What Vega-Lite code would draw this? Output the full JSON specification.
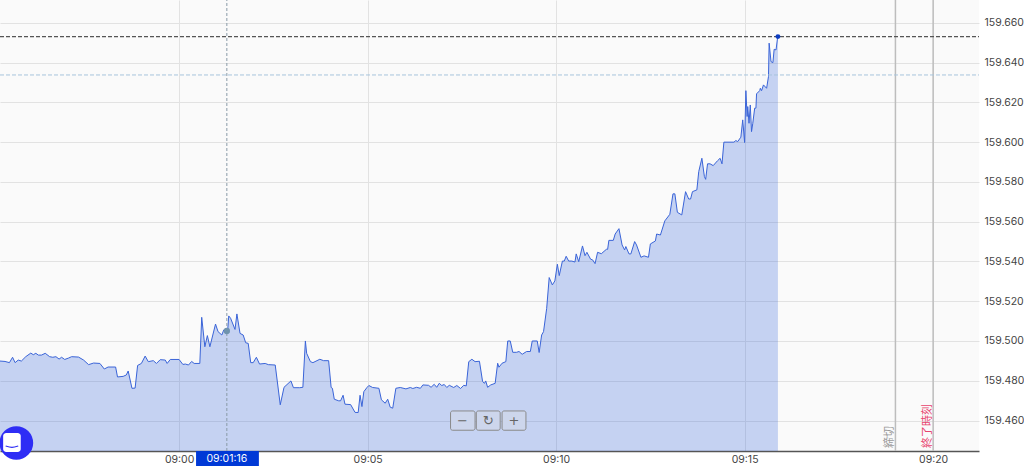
{"$schema":"https://vega.github.io/schema/vega-lite/v6.json","width":979,"height":451,"padding":{"left":0,"top":0,"right":45,"bottom":17},"autosize":{"type":"none"},"background":"#ffffff","view":{"fill":"#fafafa","stroke":null},
"datasets":{"series":[
{"time":"2024-01-01T08:55:15","price":159.4899},{"time":"2024-01-01T08:55:23","price":159.4897},{"time":"2024-01-01T08:55:30","price":159.4891},{"time":"2024-01-01T08:55:35","price":159.4918},{"time":"2024-01-01T08:55:39","price":159.4891},{"time":"2024-01-01T08:55:44","price":159.4904},{"time":"2024-01-01T08:55:49","price":159.4899},{"time":"2024-01-01T08:55:56","price":159.4921},{"time":"2024-01-01T08:56:04","price":159.4939},{"time":"2024-01-01T08:56:08","price":159.4931},{"time":"2024-01-01T08:56:12","price":159.4938},{"time":"2024-01-01T08:56:16","price":159.4929},{"time":"2024-01-01T08:56:21","price":159.4929},{"time":"2024-01-01T08:56:27","price":159.4938},{"time":"2024-01-01T08:56:34","price":159.4921},{"time":"2024-01-01T08:56:39","price":159.4918},{"time":"2024-01-01T08:56:44","price":159.4921},{"time":"2024-01-01T08:56:49","price":159.4909},{"time":"2024-01-01T08:56:53","price":159.4918},{"time":"2024-01-01T08:56:58","price":159.4907},{"time":"2024-01-01T08:57:04","price":159.4914},{"time":"2024-01-01T08:57:09","price":159.4921},{"time":"2024-01-01T08:57:20","price":159.4919},{"time":"2024-01-01T08:57:28","price":159.4904},{"time":"2024-01-01T08:57:36","price":159.4881},{"time":"2024-01-01T08:57:44","price":159.4889},{"time":"2024-01-01T08:57:54","price":159.4887},{"time":"2024-01-01T08:58:01","price":159.4859},{"time":"2024-01-01T08:58:07","price":159.4869},{"time":"2024-01-01T08:58:19","price":159.4869},{"time":"2024-01-01T08:58:22","price":159.4819},{"time":"2024-01-01T08:58:31","price":159.4822},{"time":"2024-01-01T08:58:36","price":159.4829},{"time":"2024-01-01T08:58:39","price":159.4849},{"time":"2024-01-01T08:58:45","price":159.4762},{"time":"2024-01-01T08:58:50","price":159.4763},{"time":"2024-01-01T08:58:54","price":159.4877},{"time":"2024-01-01T08:59:00","price":159.4887},{"time":"2024-01-01T08:59:06","price":159.4924},{"time":"2024-01-01T08:59:11","price":159.4896},{"time":"2024-01-01T08:59:19","price":159.4901},{"time":"2024-01-01T08:59:24","price":159.4887},{"time":"2024-01-01T08:59:30","price":159.4906},{"time":"2024-01-01T08:59:38","price":159.4904},{"time":"2024-01-01T08:59:41","price":159.4887},{"time":"2024-01-01T08:59:46","price":159.4907},{"time":"2024-01-01T09:00:00","price":159.4907},{"time":"2024-01-01T09:00:06","price":159.4882},{"time":"2024-01-01T09:00:10","price":159.4884},{"time":"2024-01-01T09:00:15","price":159.4879},{"time":"2024-01-01T09:00:20","price":159.4897},{"time":"2024-01-01T09:00:24","price":159.4887},{"time":"2024-01-01T09:00:33","price":159.4887},{"time":"2024-01-01T09:00:36","price":159.5119},{"time":"2024-01-01T09:00:41","price":159.4971},{"time":"2024-01-01T09:00:45","price":159.5027},{"time":"2024-01-01T09:00:49","price":159.4971},{"time":"2024-01-01T09:00:58","price":159.5085},{"time":"2024-01-01T09:01:02","price":159.5047},{"time":"2024-01-01T09:01:08","price":159.503},{"time":"2024-01-01T09:01:11","price":159.5055},{"time":"2024-01-01T09:01:17","price":159.5038},{"time":"2024-01-01T09:01:19","price":159.5126},{"time":"2024-01-01T09:01:22","price":159.5114},{"time":"2024-01-01T09:01:29","price":159.5058},{"time":"2024-01-01T09:01:32","price":159.5136},{"time":"2024-01-01T09:01:37","price":159.5038},{"time":"2024-01-01T09:01:42","price":159.503},{"time":"2024-01-01T09:01:46","price":159.4991},{"time":"2024-01-01T09:01:50","price":159.4988},{"time":"2024-01-01T09:01:54","price":159.4891},{"time":"2024-01-01T09:01:58","price":159.4891},{"time":"2024-01-01T09:02:03","price":159.4918},{"time":"2024-01-01T09:02:08","price":159.4884},{"time":"2024-01-01T09:02:17","price":159.4887},{"time":"2024-01-01T09:02:22","price":159.4881},{"time":"2024-01-01T09:02:33","price":159.4879},{"time":"2024-01-01T09:02:41","price":159.4679},{"time":"2024-01-01T09:02:47","price":159.4767},{"time":"2024-01-01T09:02:58","price":159.4799},{"time":"2024-01-01T09:03:02","price":159.4765},{"time":"2024-01-01T09:03:12","price":159.4765},
{"time":"2024-01-01T09:03:17","price":159.4767},{"time":"2024-01-01T09:03:21","price":159.5},{"time":"2024-01-01T09:03:23","price":159.4938},{"time":"2024-01-01T09:03:29","price":159.4896},{"time":"2024-01-01T09:03:33","price":159.4891},{"time":"2024-01-01T09:03:44","price":159.4908},{"time":"2024-01-01T09:03:50","price":159.4901},{"time":"2024-01-01T09:03:58","price":159.4901},{"time":"2024-01-01T09:04:02","price":159.4766},{"time":"2024-01-01T09:04:04","price":159.4762},{"time":"2024-01-01T09:04:07","price":159.4707},{"time":"2024-01-01T09:04:14","price":159.4699},{"time":"2024-01-01T09:04:17","price":159.4699},{"time":"2024-01-01T09:04:21","price":159.4727},{"time":"2024-01-01T09:04:24","price":159.4682},{"time":"2024-01-01T09:04:33","price":159.468},{"time":"2024-01-01T09:04:40","price":159.4641},{"time":"2024-01-01T09:04:45","price":159.464},{"time":"2024-01-01T09:04:48","price":159.4727},{"time":"2024-01-01T09:04:51","price":159.467},{"time":"2024-01-01T09:04:54","price":159.4745},{"time":"2024-01-01T09:04:59","price":159.4766},{"time":"2024-01-01T09:05:02","price":159.4776},{"time":"2024-01-01T09:05:08","price":159.4766},{"time":"2024-01-01T09:05:18","price":159.4762},{"time":"2024-01-01T09:05:22","price":159.4704},{"time":"2024-01-01T09:05:28","price":159.4687},{"time":"2024-01-01T09:05:32","price":159.4707},{"time":"2024-01-01T09:05:36","price":159.4667},{"time":"2024-01-01T09:05:40","price":159.4662},{"time":"2024-01-01T09:05:45","price":159.4762},{"time":"2024-01-01T09:05:52","price":159.4766},{"time":"2024-01-01T09:06:01","price":159.4759},{"time":"2024-01-01T09:06:08","price":159.4766},{"time":"2024-01-01T09:06:12","price":159.4761},{"time":"2024-01-01T09:06:18","price":159.4767},{"time":"2024-01-01T09:06:24","price":159.4762},{"time":"2024-01-01T09:06:28","price":159.4779},{"time":"2024-01-01T09:06:37","price":159.4777},{"time":"2024-01-01T09:06:41","price":159.4767},{"time":"2024-01-01T09:06:46","price":159.4782},{"time":"2024-01-01T09:06:50","price":159.4767},{"time":"2024-01-01T09:06:54","price":159.4787},{"time":"2024-01-01T09:06:58","price":159.4776},{"time":"2024-01-01T09:07:02","price":159.4781},{"time":"2024-01-01T09:07:06","price":159.4766},{"time":"2024-01-01T09:07:10","price":159.4777},{"time":"2024-01-01T09:07:17","price":159.4766},{"time":"2024-01-01T09:07:22","price":159.4776},{"time":"2024-01-01T09:07:28","price":159.4761},{"time":"2024-01-01T09:07:33","price":159.4777},{"time":"2024-01-01T09:07:37","price":159.4774},{"time":"2024-01-01T09:07:41","price":159.4896},{"time":"2024-01-01T09:07:46","price":159.4908},{"time":"2024-01-01T09:07:51","price":159.4896},{"time":"2024-01-01T09:07:58","price":159.4898},{"time":"2024-01-01T09:08:03","price":159.4796},{"time":"2024-01-01T09:08:06","price":159.4787},{"time":"2024-01-01T09:08:08","price":159.4799},{"time":"2024-01-01T09:08:11","price":159.4767},{"time":"2024-01-01T09:08:16","price":159.4779},{"time":"2024-01-01T09:08:23","price":159.4787},{"time":"2024-01-01T09:08:27","price":159.4888},{"time":"2024-01-01T09:08:29","price":159.4868},{"time":"2024-01-01T09:08:34","price":159.4888},{"time":"2024-01-01T09:08:40","price":159.4896},{"time":"2024-01-01T09:08:43","price":159.5},{"time":"2024-01-01T09:08:47","price":159.5},{"time":"2024-01-01T09:08:51","price":159.4943},{"time":"2024-01-01T09:08:57","price":159.4943},{"time":"2024-01-01T09:09:01","price":159.4947},{"time":"2024-01-01T09:09:06","price":159.4933},{"time":"2024-01-01T09:09:13","price":159.4947},{"time":"2024-01-01T09:09:19","price":159.4947},{"time":"2024-01-01T09:09:22","price":159.5},{"time":"2024-01-01T09:09:30","price":159.5},{"time":"2024-01-01T09:09:33","price":159.4942},
{"time":"2024-01-01T09:09:37","price":159.503},{"time":"2024-01-01T09:09:40","price":159.5047},{"time":"2024-01-01T09:09:45","price":159.5164},{"time":"2024-01-01T09:09:49","price":159.5319},{"time":"2024-01-01T09:09:54","price":159.5282},{"time":"2024-01-01T09:09:58","price":159.5302},{"time":"2024-01-01T09:10:02","price":159.5386},{"time":"2024-01-01T09:10:05","price":159.5329},{"time":"2024-01-01T09:10:10","price":159.5402},{"time":"2024-01-01T09:10:13","price":159.5402},{"time":"2024-01-01T09:10:16","price":159.5426},{"time":"2024-01-01T09:10:20","price":159.5402},{"time":"2024-01-01T09:10:25","price":159.5402},{"time":"2024-01-01T09:10:30","price":159.5397},{"time":"2024-01-01T09:10:32","price":159.5438},{"time":"2024-01-01T09:10:36","price":159.5399},{"time":"2024-01-01T09:10:42","price":159.5478},{"time":"2024-01-01T09:10:46","price":159.5429},{"time":"2024-01-01T09:10:49","price":159.5446},{"time":"2024-01-01T09:10:55","price":159.5411},{"time":"2024-01-01T09:10:58","price":159.5408},{"time":"2024-01-01T09:11:02","price":159.5389},{"time":"2024-01-01T09:11:06","price":159.5446},{"time":"2024-01-01T09:11:12","price":159.5439},{"time":"2024-01-01T09:11:20","price":159.5461},{"time":"2024-01-01T09:11:22","price":159.5461},{"time":"2024-01-01T09:11:24","price":159.5506},{"time":"2024-01-01T09:11:31","price":159.5506},{"time":"2024-01-01T09:11:34","price":159.5538},{"time":"2024-01-01T09:11:40","price":159.5565},{"time":"2024-01-01T09:11:45","price":159.5483},{"time":"2024-01-01T09:11:49","price":159.5458},{"time":"2024-01-01T09:11:51","price":159.5475},{"time":"2024-01-01T09:11:56","price":159.5438},{"time":"2024-01-01T09:11:59","price":159.5438},{"time":"2024-01-01T09:12:05","price":159.55},{"time":"2024-01-01T09:12:08","price":159.5483},{"time":"2024-01-01T09:12:15","price":159.5421},{"time":"2024-01-01T09:12:20","price":159.5428},{"time":"2024-01-01T09:12:27","price":159.5421},{"time":"2024-01-01T09:12:30","price":159.5488},{"time":"2024-01-01T09:12:38","price":159.5503},{"time":"2024-01-01T09:12:40","price":159.5538},{"time":"2024-01-01T09:12:46","price":159.5533},{"time":"2024-01-01T09:12:53","price":159.5604},{"time":"2024-01-01T09:13:01","price":159.5637},{"time":"2024-01-01T09:13:06","price":159.574},{"time":"2024-01-01T09:13:09","price":159.574},{"time":"2024-01-01T09:13:13","price":159.5647},{"time":"2024-01-01T09:13:20","price":159.5634},{"time":"2024-01-01T09:13:26","price":159.5751},{"time":"2024-01-01T09:13:31","price":159.5714},{"time":"2024-01-01T09:13:34","price":159.5714},{"time":"2024-01-01T09:13:37","price":159.5751},{"time":"2024-01-01T09:13:44","price":159.576},
{"time":"2024-01-01T09:13:47","price":159.5852},{"time":"2024-01-01T09:13:52","price":159.5919},{"time":"2024-01-01T09:13:56","price":159.5827},{"time":"2024-01-01T09:13:58","price":159.5813},{"time":"2024-01-01T09:14:01","price":159.5891},{"time":"2024-01-01T09:14:05","price":159.5891},{"time":"2024-01-01T09:14:10","price":159.5882},{"time":"2024-01-01T09:14:17","price":159.5907},{"time":"2024-01-01T09:14:21","price":159.5919},{"time":"2024-01-01T09:14:24","price":159.5891},{"time":"2024-01-01T09:14:27","price":159.6},{"time":"2024-01-01T09:14:43","price":159.6},{"time":"2024-01-01T09:14:46","price":159.6008},{"time":"2024-01-01T09:14:49","price":159.6003},{"time":"2024-01-01T09:14:54","price":159.6025},{"time":"2024-01-01T09:14:57","price":159.6112},{"time":"2024-01-01T09:15:00","price":159.5998},{"time":"2024-01-01T09:15:02","price":159.6259},{"time":"2024-01-01T09:15:04","price":159.6129},{"time":"2024-01-01T09:15:05","price":159.6179},{"time":"2024-01-01T09:15:07","price":159.6095},{"time":"2024-01-01T09:15:09","price":159.6187},{"time":"2024-01-01T09:15:11","price":159.6053},{"time":"2024-01-01T09:15:13","price":159.6095},{"time":"2024-01-01T09:15:16","price":159.6171},{"time":"2024-01-01T09:15:18","price":159.6171},{"time":"2024-01-01T09:15:19","price":159.6243},{"time":"2024-01-01T09:15:24","price":159.6259},{"time":"2024-01-01T09:15:25","price":159.6271},{"time":"2024-01-01T09:15:27","price":159.6259},{"time":"2024-01-01T09:15:30","price":159.6288},{"time":"2024-01-01T09:15:35","price":159.6271},{"time":"2024-01-01T09:15:38","price":159.633},{"time":"2024-01-01T09:15:39","price":159.6498},{"time":"2024-01-01T09:15:42","price":159.6405},{"time":"2024-01-01T09:15:45","price":159.64},{"time":"2024-01-01T09:15:47","price":159.6467},{"time":"2024-01-01T09:15:50","price":159.6464},{"time":"2024-01-01T09:15:52","price":159.6514},{"time":"2024-01-01T09:15:53","price":159.6531}]},
"layer":[
{"data":{"name":"series"},"mark":{"type":"area","fill":"#265ada","fillOpacity":0.25},"encoding":{"x":{"field":"time","type":"temporal","title":null,"scale":{"domain":[{"year":2024,"month":1,"date":1,"hours":8,"minutes":55,"seconds":15},{"year":2024,"month":1,"date":1,"hours":9,"minutes":21,"seconds":13}]},"axis":{"orient":"bottom","format":"%H:%M","values":[{"year":2024,"month":1,"date":1,"hours":9,"minutes":0},{"year":2024,"month":1,"date":1,"hours":9,"minutes":5},{"year":2024,"month":1,"date":1,"hours":9,"minutes":10},{"year":2024,"month":1,"date":1,"hours":9,"minutes":15},{"year":2024,"month":1,"date":1,"hours":9,"minutes":20}],"ticks":false,"grid":true,"gridColor":"#e2e2e2","domainColor":"#555555","domainWidth":1.5,"labelFont":"Inter","labelFontSize":10.5,"labelColor":"#444444","labelPadding":3}},"y":{"field":"price","type":"quantitative","title":null,"scale":{"domain":[159.44466,159.6715],"nice":false,"zero":false},"axis":{"orient":"right","values":[159.46,159.48,159.5,159.52,159.54,159.56,159.58,159.6,159.62,159.64,159.66],"format":".3f","ticks":false,"grid":true,"gridColor":"#e2e2e2","domain":false,"labelFont":"Inter","labelFontSize":10.5,"labelColor":"#444444","labelPadding":5}},"y2":{"datum":159.44466}}},
{"data":{"name":"series"},"mark":{"type":"line","stroke":"#3a64d8","strokeWidth":1},"encoding":{"x":{"field":"time","type":"temporal","title":null},"y":{"field":"price","type":"quantitative","title":null}}},
{"data":{"values":[{"time":"2024-01-01T09:19:00","price":159.44466,"top":159.6715},{"time":"2024-01-01T09:20:00","price":159.44466,"top":159.6715}]},"mark":{"type":"rule","stroke":"#bdbdbd","strokeWidth":1.5},"encoding":{"x":{"field":"time","type":"temporal","title":null},"y":{"field":"price","type":"quantitative","title":null},"y2":{"field":"top"}}},
{"data":{"values":[{"time":"2024-01-01T09:01:16","price":159.44466,"top":159.6715}]},"mark":{"type":"rule","stroke":"#8a9aa8","strokeWidth":1,"strokeDash":[3,2]},"encoding":{"x":{"field":"time","type":"temporal","title":null},"y":{"field":"price","type":"quantitative","title":null},"y2":{"field":"top"}}},
{"data":{"values":[{"time":"2024-01-01T08:55:15","end":"2024-01-01T09:21:13","price":159.6338}],"format":{"parse":{"time":"date","end":"date"}}},"mark":{"type":"rule","stroke":"#a8c4dc","strokeWidth":1,"strokeDash":[4,2]},"encoding":{"x":{"field":"time","type":"temporal","title":null},"x2":{"field":"end"},"y":{"field":"price","type":"quantitative","title":null}}},
{"data":{"values":[{"time":"2024-01-01T08:55:15","end":"2024-01-01T09:21:13","price":159.6531}],"format":{"parse":{"time":"date","end":"date"}}},"mark":{"type":"rule","stroke":"#555555","strokeWidth":1.2,"strokeDash":[4,2]},"encoding":{"x":{"field":"time","type":"temporal","title":null},"x2":{"field":"end"},"y":{"field":"price","type":"quantitative","title":null}}},
{"data":{"values":[{"time":"2024-01-01T09:15:53","price":159.6531}]},"mark":{"type":"circle","color":"#0c3cc0","opacity":1,"size":24},"encoding":{"x":{"field":"time","type":"temporal","title":null},"y":{"field":"price","type":"quantitative","title":null}}},
{"data":{"values":[{"time":"2024-01-01T09:01:16","price":159.505}]},"mark":{"type":"circle","color":"#6f93ae","opacity":1,"size":40},"encoding":{"x":{"field":"time","type":"temporal","title":null},"y":{"field":"price","type":"quantitative","title":null}}},
{"data":{"values":[{"time":"2024-01-01T09:19:00","price":159.4462,"label":"締切"}]},"mark":{"type":"text","angle":270,"align":"left","baseline":"bottom","font":"Noto Sans CJK JP","fontSize":11,"fill":"#9a9a9a"},"encoding":{"x":{"field":"time","type":"temporal","title":null},"y":{"field":"price","type":"quantitative","title":null},"text":{"field":"label"}}},
{"data":{"values":[{"time":"2024-01-01T09:20:00","price":159.4462,"label":"終了時刻"}]},"mark":{"type":"text","angle":270,"align":"left","baseline":"bottom","font":"Noto Sans CJK JP","fontSize":11,"fill":"#e8436e"},"encoding":{"x":{"field":"time","type":"temporal","title":null},"y":{"field":"price","type":"quantitative","title":null},"text":{"field":"label"}}},
{"data":{"values":[{"time":"2024-01-01T09:00:27","end":"2024-01-01T09:02:07","price":159.4371,"top":159.4447}],"format":{"parse":{"time":"date","end":"date"}}},"mark":{"type":"rect","fill":"#0039d6"},"encoding":{"x":{"field":"time","type":"temporal","title":null},"x2":{"field":"end"},"y":{"field":"price","type":"quantitative","title":null},"y2":{"field":"top"}}},
{"data":{"values":[{"time":"2024-01-01T09:01:16","price":159.4406,"label":"09:01:16"}]},"mark":{"type":"text","font":"Inter","fontSize":10.5,"fill":"#ffffff","align":"center","baseline":"middle"},"encoding":{"x":{"field":"time","type":"temporal","title":null},"y":{"field":"price","type":"quantitative","title":null},"text":{"field":"label"}}},
{"data":{"values":[{"time":"2024-01-01T09:07:12","end":"2024-01-01T09:07:51","price":159.4551,"top":159.4648},{"time":"2024-01-01T09:07:53","end":"2024-01-01T09:08:31","price":159.4551,"top":159.4648},{"time":"2024-01-01T09:08:34","end":"2024-01-01T09:09:12","price":159.4551,"top":159.4648}],"format":{"parse":{"time":"date","end":"date"}}},"mark":{"type":"rect","fill":"#cdd6ec","stroke":"#8a8a8a","strokeWidth":1,"cornerRadius":2},"encoding":{"x":{"field":"time","type":"temporal","title":null},"x2":{"field":"end"},"y":{"field":"price","type":"quantitative","title":null},"y2":{"field":"top"}}},
{"data":{"values":[{"time":"2024-01-01T09:07:31","price":159.46,"label":"−"},{"time":"2024-01-01T09:08:12","price":159.46,"label":"↻"},{"time":"2024-01-01T09:08:53","price":159.46,"label":"+"}]},"mark":{"type":"text","font":"DejaVu Sans","fontSize":13,"fill":"#666666","align":"center","baseline":"middle"},"encoding":{"x":{"field":"time","type":"temporal","title":null},"y":{"field":"price","type":"quantitative","title":null},"text":{"field":"label"}}},
{"data":{"values":[{"time":"2024-01-01T08:55:41","price":159.4487}]},"mark":{"type":"circle","color":"#2e2df5","opacity":1,"size":1134},"encoding":{"x":{"field":"time","type":"temporal","title":null},"y":{"field":"price","type":"quantitative","title":null}}},
{"data":{"values":[{"time":"2024-01-01T08:55:20","end":"2024-01-01T08:55:48","price":159.4441,"top":159.4537}],"format":{"parse":{"time":"date","end":"date"}}},"mark":{"type":"rect","fill":"#ffffff","cornerRadius":3},"encoding":{"x":{"field":"time","type":"temporal","title":null},"x2":{"field":"end"},"y":{"field":"price","type":"quantitative","title":null},"y2":{"field":"top"}}},
{"data":{"values":[{"time":"2024-01-01T08:55:24","price":159.4472},{"time":"2024-01-01T08:55:34","price":159.4465},{"time":"2024-01-01T08:55:44","price":159.4472}]},"mark":{"type":"line","stroke":"#2e2df5","strokeWidth":1.2,"interpolate":"monotone"},"encoding":{"x":{"field":"time","type":"temporal","title":null},"y":{"field":"price","type":"quantitative","title":null}}}
]}
